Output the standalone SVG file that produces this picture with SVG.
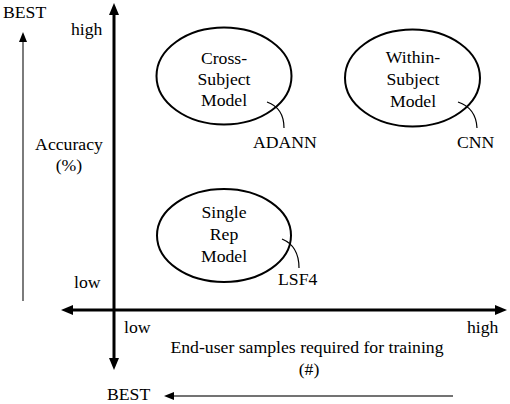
<svg xmlns="http://www.w3.org/2000/svg" width="510" height="404" viewBox="0 0 510 404" font-family="'Liberation Serif', 'Times New Roman', serif">
<style>
text{font-family:"Liberation Serif","Times New Roman",serif;font-size:17.7px;fill:#000}
.c{text-anchor:middle}
.axis{stroke:#000;stroke-width:3;fill:none}
.thin{stroke:#444;stroke-width:1.4;fill:none}
.node ellipse{fill:none;stroke:#000;stroke-width:2}
.callout{fill:none;stroke:#000;stroke-width:1.2}
</style>
<defs>
<marker id="big" markerUnits="userSpaceOnUse" markerWidth="12" markerHeight="10" refX="0" refY="5" orient="auto-start-reverse"><path d="M0,0 L12,5 L0,10 z" fill="#000"/></marker>
<marker id="small" markerUnits="userSpaceOnUse" markerWidth="10" markerHeight="8" refX="0" refY="4" orient="auto"><path d="M0,0 L10,4 L0,8 z" fill="#000"/></marker>
</defs>
<rect width="510" height="404" fill="#fff"/>
<g id="connectors">
<line class="axis" x1="114" y1="15" x2="114" y2="358" marker-start="url(#big)" marker-end="url(#big)"/>
<line class="axis" x1="73" y1="310" x2="495" y2="310" marker-start="url(#big)" marker-end="url(#big)"/>
<line class="thin" x1="23" y1="301" x2="23" y2="42" marker-end="url(#small)"/>
<line class="thin" x1="453" y1="396" x2="174" y2="396" marker-end="url(#small)"/>
<path class="callout" d="M267,102 Q284,108 284,128"/>
<path class="callout" d="M458,102 Q476,108 477,128"/>
<path class="callout" d="M282,239 Q299,246 299,268"/>
</g>
<g id="labels">
<text x="3" y="18">BEST</text>
<text x="71" y="35">high</text>
<text class="c" x="69" y="150">Accuracy</text>
<text class="c" x="69" y="171">(%)</text>
<text x="74" y="288">low</text>
<text x="124" y="333">low</text>
<text x="467" y="333">high</text>
<text class="c" x="307" y="353">End-user samples required for training</text>
<text class="c" x="309" y="375">(#)</text>
<text x="107" y="400">BEST</text>
</g>
<g id="cross-subject" class="node">
<ellipse cx="224" cy="76" rx="67.5" ry="48.5"/>
<text class="c" x="224" y="64">Cross-</text>
<text class="c" x="224" y="85">Subject</text>
<text class="c" x="224" y="106">Model</text>
</g>
<g id="within-subject" class="node">
<ellipse cx="412.5" cy="78" rx="67.5" ry="48.5"/>
<text class="c" x="413" y="63">Within-</text>
<text class="c" x="413" y="85">Subject</text>
<text class="c" x="413" y="107">Model</text>
</g>
<g id="single-rep" class="node">
<ellipse cx="224" cy="235.5" rx="67" ry="46.5"/>
<text class="c" x="224" y="218">Single</text>
<text class="c" x="224" y="240">Rep</text>
<text class="c" x="224" y="262">Model</text>
</g>
<g id="adann"><text x="253" y="148">ADANN</text></g>
<g id="cnn"><text x="457" y="148">CNN</text></g>
<g id="lsf4"><text x="278" y="285">LSF4</text></g>
</svg>
